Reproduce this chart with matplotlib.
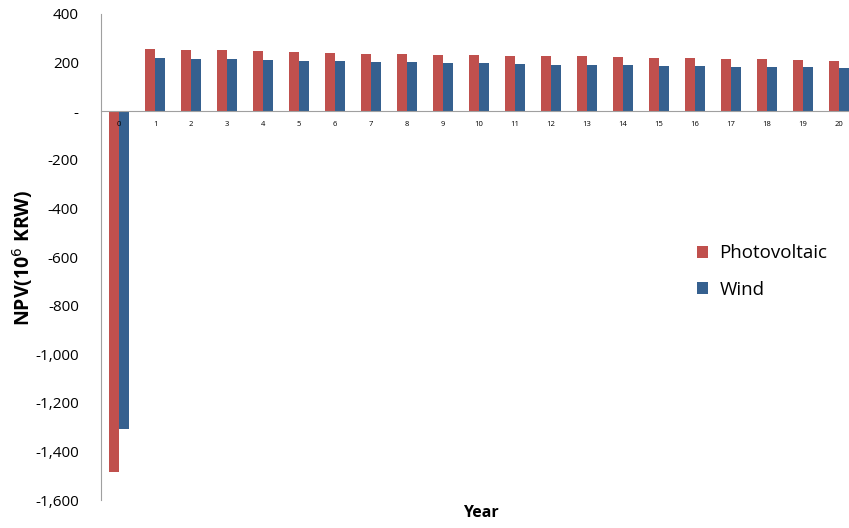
import numpy as np
import matplotlib.pyplot as plt
from matplotlib.ticker import FuncFormatter

years = list(range(21))
pv = [-1484, 255, 252, 250, 247, 243, 240, 237, 236, 233, 231, 229, 226, 226, 222, 219, 217, 214, 214, 210, 207]
wind = [-1307, 217, 213, 213, 210, 208, 206, 204, 202, 200, 198, 195, 192, 192, 189, 186, 186, 183, 182, 180, 177]

plt.rcParams['font.family'] = ['Open Sans', 'DejaVu Sans']

fig = plt.figure(figsize=(8.49, 5.28), dpi=100)
ax = fig.add_axes([0.119, 0.053, 0.8905, 0.9205])

x = np.arange(len(years))
w = 0.27
ax.bar(x - w / 2, pv, w, color='#c0504d', label='Photovoltaic')
ax.bar(x + w / 2, wind, w, color='#35608f', label='Wind')

ax.set_xlim(-0.5, 20.5)
ax.set_ylim(-1600, 400)
ax.set_yticks(range(-1600, 401, 200))

def fmt(v, pos):
    if v == 0:
        return '-'
    return f'{int(v):,}'

ax.yaxis.set_major_formatter(FuncFormatter(fmt))
ax.set_xticks(x)
ax.set_xticklabels([str(y) for y in years])

for s in ['top', 'right']:
    ax.spines[s].set_visible(False)
ax.spines['bottom'].set_position(('data', 0))
ax.spines['bottom'].set_color('#a0a0a0')
ax.spines['left'].set_color('#a0a0a0')
ax.tick_params(axis='x', length=0, labelsize=5.5, pad=7)
ax.tick_params(axis='y', length=0, labelsize=11, pad=16)

fig.text(0.026, 0.512, 'NPV(10$^6$ KRW)', rotation=90, va='center', ha='center',
         fontsize=14, fontweight='bold')
fig.text(0.566, 0.028, 'Year', ha='center', va='center', fontsize=11.5, fontweight='bold')

ax.legend(loc='center left', bbox_to_anchor=(0.766, 0.47), frameon=False,
          fontsize=13.5, handlelength=0.6, handleheight=0.6, handletextpad=0.6,
          labelspacing=1.0)

fig.savefig('out.png', dpi=100)
